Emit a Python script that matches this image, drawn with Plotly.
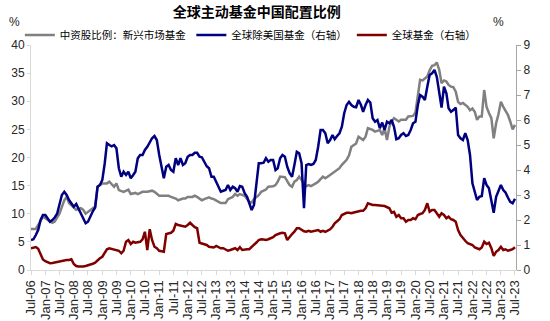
import plotly.graph_objects as go
import pandas as pd

TITLE = "全球主动基金中国配置比例"
NAMES = ["中资股比例：新兴市场基金", "全球除美国基金（右轴）", "全球基金（右轴）"]
START = "2006-07-01"
N_MONTHS = 205  # Jul-06 .. Jul-23
MONTHS = pd.date_range(START, periods=N_MONTHS, freq="MS")

# EM funds China allocation (left axis, %), month offsets from Jul-06
GRAY_IDX = [0, 2, 3, 5, 7, 9, 10, 12, 14, 15,
            16, 18, 19, 21, 22, 23, 25, 27, 28, 30,
            32, 33, 35, 36, 37, 39, 41, 42, 44, 45,
            47, 48, 49, 51, 52, 54, 55, 56, 58, 59,
            61, 62, 64, 65, 66, 68, 69, 70, 72, 73,
            75, 76, 77, 79, 80, 82, 83, 85, 86, 87,
            88, 90, 91, 92, 93, 94, 96, 97, 99, 100,
            102, 103, 104, 105, 107, 108, 109, 110, 111, 112,
            113, 114, 115, 116, 117, 118, 120, 121, 123, 124,
            126, 127, 128, 130, 131, 133, 134, 135, 137, 138,
            140, 141, 142, 144, 145, 147, 148, 149, 150, 151,
            152, 153, 154, 155, 156, 158, 159, 161, 162,
            163, 164, 165, 166, 167, 168, 169, 170, 171, 172,
            173, 174, 175, 176, 177, 178, 179, 180, 181, 182,
            183, 184, 185, 186, 187, 188, 189, 190, 191, 192,
            193, 194, 195, 196, 197, 198, 199, 200, 201, 202,
            203, 204]
GRAY_VALUES = [7.3, 7.3, 8.0, 9.5, 8.9, 8.4, 8.6, 10.0, 12.4, 13.0,
               11.9, 11.0, 10.7, 11.0, 10.7, 10.0, 10.7, 11.3, 14.8, 15.4,
               15.4, 15.7, 14.8, 15.4, 14.2, 13.9, 14.3, 13.5, 13.7, 13.5,
               13.9, 13.9, 13.9, 14.1, 13.9, 13.2, 13.2, 13.3, 13.2, 13.0,
               12.7, 12.4, 12.7, 12.7, 13.0, 13.0, 13.2, 13.0, 12.4, 12.6,
               12.9, 12.7, 12.6, 12.1, 11.9, 11.9, 12.6, 13.0, 13.5, 13.2,
               13.5, 13.2, 12.7, 12.1, 12.0, 12.6, 13.3, 13.9, 14.3, 14.8,
               14.9, 15.1, 15.7, 16.6, 16.5, 15.7, 15.1, 14.8, 15.7, 16.0,
               16.6, 16.0, 15.3, 14.9, 15.1, 14.9, 15.4, 15.7, 16.6, 16.3,
               16.9, 17.2, 17.5, 18.1, 18.7, 19.6, 20.4, 21.9, 22.5, 23.7,
               23.1, 23.7, 25.2, 24.9, 24.6, 24.9, 24.0, 25.2, 23.1, 25.5,
               26.4, 27.0, 26.7, 26.4, 26.7, 26.7, 27.3, 27.4, 28.0,
               31.5, 33.8, 33.7, 34.1, 34.4, 35.5, 36.3, 36.4, 36.9, 35.6,
               33.2, 33.7, 33.5, 32.9, 32.6, 32.5, 31.7, 29.9, 29.5, 29.7,
               29.3, 29.0, 28.4, 28.7, 28.1, 26.7, 27.3, 27.3, 32.0, 29.0,
               27.9, 27.0, 23.4, 26.1, 27.7, 29.9, 29.0, 28.3, 27.6, 26.4,
               25.0, 25.8]

# Global ex-US funds (right axis, %), monthly Jul-06 .. Jul-23
BLUE_VALUES = [1.2, 1.23, 1.4, 1.6, 2.0, 2.2, 2.2, 2.05, 1.93, 2.0,
               2.1, 2.25, 2.67, 3.0, 3.13, 3.0, 2.8, 2.67, 2.53, 2.64,
               2.45, 2.25, 2.07, 1.87, 1.93, 2.15, 2.35, 2.5, 3.33, 3.4,
               3.6, 4.27, 5.07, 5.0, 4.95, 5.0, 4.87, 4.07, 3.73, 3.93,
               3.8, 3.93, 3.67, 3.8, 3.93, 4.47, 4.6, 4.6, 4.8, 4.93,
               5.1, 5.27, 5.36, 5.2, 4.6, 4.13, 3.67, 4.13, 4.2, 4.0,
               3.93, 4.47, 4.2, 4.47, 4.2, 4.27, 4.53, 4.6, 4.6, 4.69,
               4.69, 4.53, 4.51, 4.33, 4.15, 4.07, 3.73, 3.73, 3.53, 3.27,
               3.13, 3.17, 3.2, 3.4, 3.2, 3.33, 3.27, 3.13, 3.36, 3.33,
               3.07, 2.93, 2.67, 2.4, 2.6, 3.47, 4.27, 4.27, 4.29, 4.47,
               4.33, 4.4, 4.4, 4.0, 4.07, 4.47, 4.6, 4.53, 4.13, 3.87,
               3.73, 4.2, 4.73, 4.67, 4.27, 2.47, 4.2, 4.24, 4.2, 4.24,
               4.4, 4.93, 5.6, 5.6, 5.47, 5.07, 5.2, 5.4, 5.23, 5.36,
               5.47, 5.73, 6.27, 6.6, 6.73, 6.6, 6.53, 6.51, 6.8, 6.6,
               6.33, 6.6, 6.8, 6.7, 6.07, 5.93, 6.0, 5.67, 5.9, 5.6,
               5.93, 5.87, 6.0, 5.73, 5.23, 5.27, 5.4, 5.47, 5.36, 5.4,
               5.6, 5.87, 5.93, 6.6, 7.0, 6.93, 6.8, 7.33, 7.8, 7.87,
               8.0, 7.73, 7.07, 6.5, 7.33, 7.07, 6.47, 6.33, 6.4, 6.5,
               5.4, 5.27, 5.2, 5.47, 5.2, 4.6, 3.47, 3.1, 2.8, 2.93,
               2.96, 3.67, 3.4, 3.27, 2.8, 2.29, 2.93, 3.2, 3.4, 3.2,
               3.1, 2.9, 2.73, 2.67, 2.85]

# Global funds (right axis, %), monthly Jul-06 .. Jul-23
RED_VALUES = [0.87, 0.9, 0.92, 0.85, 0.6, 0.42, 0.35, 0.32, 0.27, 0.28,
              0.3, 0.33, 0.35, 0.37, 0.38, 0.4, 0.4, 0.43, 0.24, 0.16,
              0.14, 0.13, 0.14, 0.16, 0.18, 0.2, 0.25, 0.29, 0.4, 0.47,
              0.53, 0.7, 0.83, 0.87, 0.85, 0.83, 0.8, 0.77, 0.67, 0.77,
              1.13, 1.2, 1.04, 1.13, 1.09, 1.11, 1.13, 1.23, 1.53, 0.8,
              1.63, 1.2, 0.93, 0.87, 0.77, 0.75, 0.73, 1.44, 1.47, 1.49,
              1.57, 1.84, 1.8, 1.78, 1.75, 1.73, 1.8, 1.89, 1.8, 1.71,
              1.67, 1.09, 1.06, 1.04, 1.0, 0.93, 0.92, 0.9, 0.96, 0.9,
              0.87, 0.87, 0.83, 0.77, 0.8, 0.83, 0.87, 0.8, 0.91, 0.8,
              0.83, 0.83, 0.83, 0.91, 1.0, 1.1, 1.2, 1.23, 1.22, 1.2,
              1.23, 1.27, 1.31, 1.4, 1.44, 1.47, 1.49, 1.47, 1.2, 1.33,
              1.44, 1.53, 1.67, 1.67, 1.6, 1.55, 1.53, 1.57, 1.53, 1.55,
              1.57, 1.6, 1.53, 1.57, 1.53, 1.58, 1.63, 1.73, 1.87, 1.95,
              2.03, 2.2, 2.25, 2.29, 2.29, 2.27, 2.3, 2.33, 2.37, 2.37,
              2.37, 2.47, 2.67, 2.63, 2.6, 2.6, 2.6, 2.6, 2.57, 2.56,
              2.5, 2.47, 2.29, 2.33, 2.13, 2.2, 2.07, 2.07, 1.93, 2.0,
              2.0, 2.07, 2.03, 2.2, 2.24, 2.27, 2.4, 2.67, 2.33, 2.4,
              2.4, 2.29, 2.13, 2.27, 2.2, 2.07, 2.13, 2.03, 2.0, 1.93,
              1.6, 1.4, 1.27, 1.17, 1.07, 1.04, 1.0, 0.9, 0.87, 0.83,
              0.9, 1.13, 1.04, 1.09, 0.87, 0.56, 0.73, 0.8, 0.93, 0.8,
              0.83, 0.77, 0.8, 0.83, 0.91]

LEFT_TICKS = [0, 5, 10, 15, 20, 25, 30, 35, 40]
RIGHT_TICKS = [0, 1, 2, 3, 4, 5, 6, 7, 8, 9]

COLORS = ["#808080", "#000080", "#800000"]
LATIN = "Liberation Sans, Arial, sans-serif"
CJK = "Noto Sans CJK SC, sans-serif"

fig = go.Figure()
fig.add_trace(go.Scatter(x=[MONTHS[i] for i in GRAY_IDX], y=GRAY_VALUES, name=NAMES[0],
                         mode="lines", line=dict(color=COLORS[0], width=2.5)))
fig.add_trace(go.Scatter(x=MONTHS, y=BLUE_VALUES, name=NAMES[1], yaxis="y2",
                         mode="lines", line=dict(color=COLORS[1], width=2.5)))
fig.add_trace(go.Scatter(x=MONTHS, y=RED_VALUES, name=NAMES[2], yaxis="y2",
                         mode="lines", line=dict(color=COLORS[2], width=2.5)))

fig.update_layout(
    width=550, height=321,
    margin=dict(l=31, r=34, t=45, b=51, autoexpand=False),
    paper_bgcolor="white", plot_bgcolor="white",
    font=dict(family=LATIN, size=12, color="#262626"),
    title=dict(text="<b>" + TITLE + "</b>", xref="container", x=0.467, xanchor="center",
               yref="container", y=0.962, yanchor="middle",
               font=dict(family=CJK, size=14, color="#000000")),
    showlegend=True,
    legend=dict(orientation="h", x=-0.023, xanchor="left", y=1.044, yanchor="middle",
                font=dict(family=CJK, size=10.5, color="#000000"),
                bgcolor="rgba(0,0,0,0)", itemwidth=30, tracegroupgap=0),
    xaxis=dict(type="date", range=["2006-07-01", "2023-07-14"], automargin=False,
               tickmode="linear", tick0="2006-07-01", dtick="M6", tickformat="%b-%y",
               tickangle=-90, ticks="outside", ticklen=4, tickcolor="#d9d9d9",
               showline=True, linecolor="#d9d9d9", linewidth=1,
               showgrid=False, zeroline=False,
               tickfont=dict(family=LATIN, size=13, color="#262626")),
    yaxis=dict(range=[0, 40], tickmode="array", tickvals=LEFT_TICKS, automargin=False,
               ticks="outside", ticklen=3, tickcolor="#d9d9d9",
               showline=True, linecolor="#d9d9d9", linewidth=1,
               showgrid=False, zeroline=False,
               tickfont=dict(family=LATIN, size=12, color="#262626")),
    yaxis2=dict(range=[0, 9], overlaying="y", side="right", tickmode="array", automargin=False,
                tickvals=RIGHT_TICKS, ticks="outside", ticklen=4, tickcolor="#a6a6a6",
                showline=True, linecolor="#a6a6a6", linewidth=1,
                showgrid=False, zeroline=False,
                tickfont=dict(family=LATIN, size=12, color="#262626")),
    annotations=[
        dict(text="%", xref="paper", yref="paper", x=-0.033, y=1.102,
             xanchor="center", yanchor="middle",
             showarrow=False, font=dict(family=LATIN, size=12, color="#262626")),
        dict(text="%", xref="paper", yref="paper", x=0.963, y=1.102,
             xanchor="center", yanchor="middle",
             showarrow=False, font=dict(family=LATIN, size=12, color="#262626")),
    ],
)

fig.write_html("out.html")
